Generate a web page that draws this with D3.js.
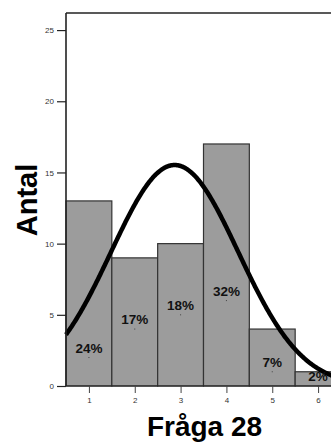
<!DOCTYPE html>
<html>
<head>
<meta charset="utf-8">
<script src="https://cdn.jsdelivr.net/npm/d3@7"></script>
<style>
  html, body { margin: 0; padding: 0; background: #fff; }
  svg { display: block; }
</style>
</head>
<body>
<svg id="chart" width="331" height="443"></svg>
<script>
// Answer categories for question 28 and their counts
const categories = [1, 2, 3, 4, 5, 6];
const counts = [13, 9, 10, 17, 4, 1];
const percentLabels = ["24%", "17%", "18%", "32%", "7%", "2%"];
// Level (in count units) where each percentage label is anchored
const labelAnchor = [2, 4, 5, 6, 1, 0];
const yTicks = [0, 5, 10, 15, 20, 25];

const svg = d3.select("#chart");
const font = "Arial, 'Liberation Sans', sans-serif";

const x = d3.scaleLinear().domain([0.5, 6.5]).range([66, 341]);
const y = d3.scaleLinear().domain([0, 26.2]).range([386, 13]);

// Bars
svg.append("g").selectAll("rect")
  .data(categories)
  .join("rect")
  .attr("x", (d) => x(d - 0.5))
  .attr("y", (d, i) => y(counts[i]))
  .attr("width", (d) => x(d + 0.5) - x(d - 0.5))
  .attr("height", (d, i) => y(0) - y(counts[i]))
  .attr("fill", "#9c9c9c")
  .attr("stroke", "#333")
  .attr("stroke-width", 1.2);

// Fitted normal curve from the histogram's mean and standard deviation
const n = d3.sum(counts);
const mean = d3.sum(categories, (c, i) => c * counts[i]) / n;
const sd = Math.sqrt(d3.sum(categories, (c, i) => counts[i] * (c - mean) ** 2) / (n - 1));
const curveX = d3.range(0.5, 6.5001, 0.02);
const density = (v) => n / (sd * Math.sqrt(2 * Math.PI)) * Math.exp(-0.5 * ((v - mean) / sd) ** 2);
svg.append("path")
  .datum(curveX)
  .attr("d", d3.line().x((v) => x(v)).y((v) => y(density(v))))
  .attr("fill", "none")
  .attr("stroke", "#000")
  .attr("stroke-width", 4.5);

// Percentage labels with their anchor dots
const lab = svg.append("g");
lab.selectAll("rect")
  .data(categories)
  .join("rect")
  .attr("x", (d) => x(d) - 0.5)
  .attr("y", (d, i) => y(labelAnchor[i]) - 0.5)
  .attr("width", 1)
  .attr("height", 1)
  .attr("fill", "#444");
lab.selectAll("text")
  .data(categories)
  .join("text")
  .attr("x", (d) => x(d))
  .attr("y", (d, i) => y(labelAnchor[i]) - 5)
  .attr("text-anchor", "middle")
  .attr("font-family", font)
  .attr("font-weight", "bold")
  .attr("font-size", 13.5)
  .attr("fill", "#111")
  .text((d, i) => percentLabels[i]);

// Frame lines (top, left, bottom)
svg.append("line").attr("x1", x(0.5)).attr("x2", x(6.5)).attr("y1", 13).attr("y2", 13)
  .attr("stroke", "#222").attr("stroke-width", 1.6);

// Y axis
const yAxis = svg.append("g")
  .attr("transform", `translate(${x(0.5)},0)`)
  .call(d3.axisLeft(y).tickValues(yTicks).tickSize(9).tickPadding(3));
yAxis.select(".domain").attr("stroke", "#222").attr("stroke-width", 1.6)
  .attr("d", `M0,${y(0)}V13`);
yAxis.selectAll(".tick line").attr("stroke", "#222").attr("stroke-width", 1.2);
yAxis.selectAll(".tick text").attr("font-family", font).attr("font-size", 8).attr("fill", "#333");

// X axis
const xAxis = svg.append("g")
  .attr("transform", `translate(0,${y(0)})`)
  .call(d3.axisBottom(x).tickValues(categories).tickSize(7).tickPadding(4).tickFormat(d3.format("d")));
xAxis.select(".domain").attr("stroke", "#222").attr("stroke-width", 1.2)
  .attr("d", `M${x(0.5)},0H${x(6.5)}`);
xAxis.selectAll(".tick line").attr("stroke", "#444").attr("stroke-width", 1);
xAxis.selectAll(".tick text").attr("font-family", font).attr("font-size", 8).attr("fill", "#333");

// Axis titles
svg.append("text")
  .attr("transform", `translate(37,200) rotate(-90)`)
  .attr("text-anchor", "middle")
  .attr("font-family", font)
  .attr("font-weight", "bold")
  .attr("font-size", 29)
  .attr("fill", "#000")
  .text("Antal");

svg.append("text")
  .attr("x", 204.5)
  .attr("y", 436)
  .attr("text-anchor", "middle")
  .attr("font-family", font)
  .attr("font-weight", "bold")
  .attr("font-size", 28)
  .attr("fill", "#000")
  .text("Fråga 28");
</script>
</body>
</html>
